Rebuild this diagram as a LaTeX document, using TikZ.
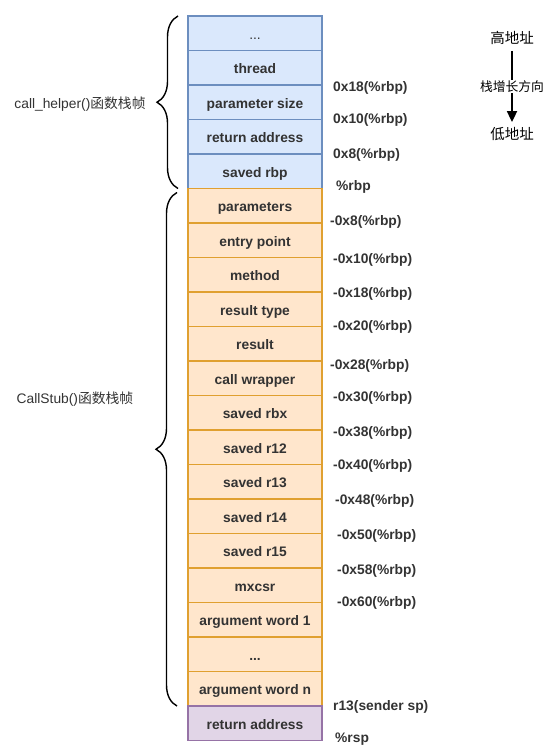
\documentclass[tikz,border=0pt]{standalone}
\usepackage{fontspec}
\setmainfont{Liberation Sans}
\newfontfamily\cjk{Noto Sans CJK SC}
\usepackage{tikz}
\usetikzlibrary{arrows.meta,positioning,decorations.pathreplacing}

\definecolor{bluefill}{HTML}{DAE8FC}
\definecolor{bluedraw}{HTML}{6C8EBF}
\definecolor{orangefill}{HTML}{FFE6CC}
\definecolor{orangedraw}{HTML}{E0A030}
\definecolor{purplefill}{HTML}{E1D5E7}
\definecolor{purpledraw}{HTML}{9673A6}
\definecolor{txt}{HTML}{333333}

\begin{document}
\begin{tikzpicture}[
    x=1pt, y=-1pt,
    slot/.style={line width=1.6pt, minimum width=134pt, minimum height=34.5pt,
        inner sep=0pt, outer sep=0pt, text height=13pt, text depth=1pt,
        font=\fontsize{13.8}{16}\selectfont\bfseries, text=txt},
    callerslot/.style={slot, draw=bluedraw, fill=bluefill},
    stubslot/.style={slot, draw=orangedraw, fill=orangefill},
    retslot/.style={slot, draw=purpledraw, fill=purplefill},
    offset/.style={anchor=west, inner sep=0pt, yshift=-2pt, font=\fontsize{13.8}{16}\selectfont\bfseries, text=txt},
    frame/.style={font=\fontsize{13.8}{16}\selectfont, text=txt},
    bracket/.style={decorate, decoration={brace, amplitude=21pt}, line width=1.4pt},
]
\useasboundingbox[fill=white] (0,0) rectangle (557,754);

% call_helper() frame
\node[callerslot] (dots1) at (255,33.25) {\mdseries ...};
\node[callerslot, below=0pt of dots1] (thread) {thread};
\node[callerslot, below=0pt of thread] (psize) {parameter size};
\node[callerslot, below=0pt of psize] (retaddr1) {return address};
\node[callerslot, below=0pt of retaddr1] (rbp) {saved rbp};

% CallStub() frame
\node[stubslot, below=0pt of rbp] (params) {parameters};
\node[stubslot, below=0pt of params] (entry) {entry point};
\node[stubslot, below=0pt of entry] (method) {method};
\node[stubslot, below=0pt of method] (rtype) {result type};
\node[stubslot, below=0pt of rtype] (result) {result};
\node[stubslot, below=0pt of result] (wrapper) {call wrapper};
\node[stubslot, below=0pt of wrapper] (rbx) {saved rbx};
\node[stubslot, below=0pt of rbx] (r12) {saved r12};
\node[stubslot, below=0pt of r12] (r13) {saved r13};
\node[stubslot, below=0pt of r13] (r14) {saved r14};
\node[stubslot, below=0pt of r14] (r15) {saved r15};
\node[stubslot, below=0pt of r15] (mxcsr) {mxcsr};
\node[stubslot, below=0pt of mxcsr] (arg1) {argument word 1};
\node[stubslot, below=0pt of arg1] (dots2) {...};
\node[stubslot, below=0pt of dots2] (argn) {argument word n};
\node[retslot, below=0pt of argn] (retaddr2) {return address};

% offsets from rbp
\node[offset] (o18) at (333,86) {0x18(\%rbp)};
\node[offset] (o10) at (333,118) {0x10(\%rbp)};
\node[offset] (o8) at (333,153) {0x8(\%rbp)};
\node[offset] (o0) at (336,185) {\%rbp};
\node[offset] (m8) at (330,220) {-0x8(\%rbp)};
\node[offset] (m10) at (333,258) {-0x10(\%rbp)};
\node[offset] (m18) at (333,292) {-0x18(\%rbp)};
\node[offset] (m20) at (333,325) {-0x20(\%rbp)};
\node[offset] (m28) at (330,364) {-0x28(\%rbp)};
\node[offset] (m30) at (333,396) {-0x30(\%rbp)};
\node[offset] (m38) at (333,431) {-0x38(\%rbp)};
\node[offset] (m40) at (333,464) {-0x40(\%rbp)};
\node[offset] (m48) at (335,499) {-0x48(\%rbp)};
\node[offset] (m50) at (337,534) {-0x50(\%rbp)};
\node[offset] (m58) at (337,569) {-0x58(\%rbp)};
\node[offset] (m60) at (337,601) {-0x60(\%rbp)};
\node[offset] (sendersp) at (333,705) {r13(sender sp)};
\node[offset] (rsp) at (335,737) {\%rsp};

% frame braces
\draw[bracket] ([xshift=-10pt]rbp.south west) -- ([xshift=-10pt]dots1.north west);
\draw[bracket] ([xshift=-11pt]argn.south west) -- ([xshift=-11pt,yshift=-4pt]params.north west);
\node[frame] (helperlbl) at (80,104) {call\_helper(){\cjk 函数栈帧}};
\node[frame] (stublbl) at (75,399) {CallStub(){\cjk 函数栈帧}};

% growth direction
\node[font=\cjk\fontsize{14.5}{16}\selectfont, inner sep=2pt] (high) at (512,38) {高地址};
\node[font=\cjk\fontsize{14.5}{16}\selectfont, inner sep=2pt] (low) at (512,134) {低地址};
\draw[-{Triangle[length=11pt,width=10pt]}, line width=1.8pt] ([yshift=-4pt]high.south) -- ([yshift=3pt]low.north)
    node[midway, fill=white, inner sep=1pt, font=\cjk\fontsize{12.8}{14}\selectfont] (growlbl) {栈增长方向};
\end{tikzpicture}
\end{document}
